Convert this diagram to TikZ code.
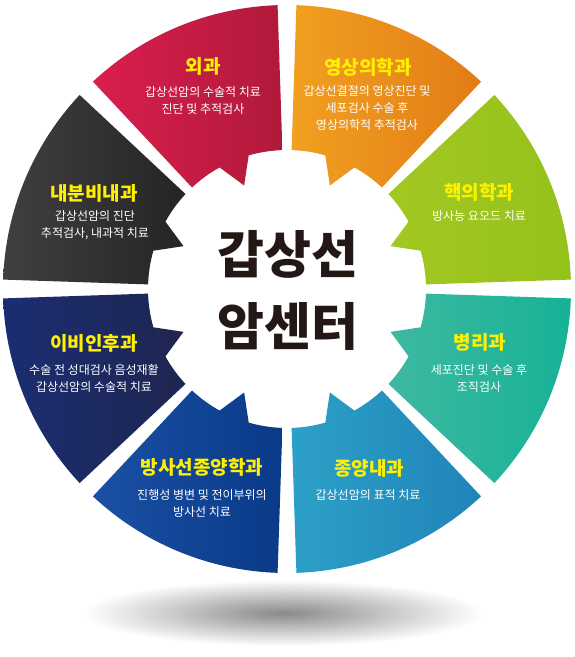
\documentclass[tikz,border=0pt]{standalone}
\usepackage{fontspec}
\newfontfamily\kr{Noto Sans CJK KR}
\definecolor{ttl}{RGB}{255,240,0}
\definecolor{ctr}{RGB}{35,24,21}
\definecolor{redL}{RGB}{218,30,78}\definecolor{redR}{RGB}{176,26,58}
\definecolor{orL}{RGB}{241,160,32}\definecolor{orR}{RGB}{226,124,22}
\definecolor{grL}{RGB}{162,200,34}\definecolor{grR}{RGB}{148,194,26}
\definecolor{gyL}{RGB}{64,64,64}\definecolor{gyR}{RGB}{36,36,36}
\definecolor{nvL}{RGB}{27,45,115}\definecolor{nvR}{RGB}{30,38,80}
\definecolor{blL}{RGB}{27,80,165}\definecolor{blR}{RGB}{10,58,136}
\definecolor{tbL}{RGB}{44,160,200}\definecolor{tbR}{RGB}{32,132,184}
\definecolor{tlL}{RGB}{62,185,160}\definecolor{tlR}{RGB}{22,178,150}
\newcommand\Ro{284}\newcommand\Ri{139}\newcommand\Rt{112}
\newcommand\gp{1.9}\newcommand\bw{6.5}
\newcommand\mysector[3]{%
 \pgfmathsetmacro\sA{#1+\gp}\pgfmathsetmacro\sB{#1+45-\gp}\pgfmathsetmacro\sM{#1+22.5}%
 \pgfmathsetmacro\sP{\sM+\bw}\pgfmathsetmacro\sN{\sM-\bw}%
 \shade[left color=#2, right color=#3, shift={(O)}] (\sA:\Ri) -- (\sA:\Ro)
   arc[start angle=\sA, end angle=\sB, radius=\Ro] -- (\sB:\Ri)
   arc[start angle=\sB, end angle=\sP, radius=\Ri] -- (\sM:\Rt) -- (\sN:\Ri)
   arc[start angle=\sN, end angle=\sA, radius=\Ri] -- cycle;}
\begin{document}
\begin{tikzpicture}[x=1pt,y=1pt,
  ttlst/.style={font=\kr\bfseries\fontsize{19}{22}\selectfont, text=ttl, inner sep=0pt},
  bodyst/.style={font=\kr\fontsize{12}{17}\selectfont, text=white, align=center, inner sep=0pt},
  ctrst/.style={font=\kr\bfseries\fontsize{51}{72}\selectfont, text=ctr, align=center, inner sep=0pt}]
\useasboundingbox (0,0) rectangle (574,-657);
\fill[white] (0,0) rectangle (574,-657);
\coordinate (O) at (287,-289);
\shade[inner color=black!46, outer color=white] (283,-613) ellipse [x radius=200, y radius=33];
\mysector{0}{grL}{grR}
\mysector{45}{orL}{orR}
\mysector{90}{redL}{redR}
\mysector{135}{gyL}{gyR}
\mysector{180}{nvL}{nvR}
\mysector{225}{blL}{blR}
\mysector{270}{tbL}{tbR}
\mysector{315}{tlL}{tlR}
% center
\node[ctrst] (c) at (288,-290) {갑상선\\암센터};
% titles and bodies
\node[ttlst] (t1) at (203,-66) {외과};
\node[bodyst] (b1) at (203,-101) {갑상선암의 수술적 치료\\진단 및 추적검사};
\node[ttlst] (t2) at (368,-67) {영상의학과};
\node[bodyst] (b2) at (367,-108) {갑상선결절의 영상진단 및\\세포검사 수술 후\\영상의학적 추적검사};
\node[ttlst] (t3) at (479,-192) {핵의학과};
\node[bodyst] (b3) at (479,-216) {방사능 요오드 치료};
\node[ttlst] (t4) at (480,-342) {병리과};
\node[bodyst] (b4) at (479,-378) {세포진단 및 수술 후\\조직검사};
\node[ttlst] (t5) at (369,-468) {종양내과};
\node[bodyst] (b5) at (368,-495) {갑상선암의 표적 치료};
\node[ttlst] (t6) at (202,-467) {방사선종양학과};
\node[bodyst] (b6) at (202,-503.5) {진행성 병변 및 전이부위의\\방사선 치료};
\node[ttlst] (t7) at (94,-343) {이비인후과};
\node[bodyst] (b7) at (94,-378) {수술 전 성대검사 음성재활\\갑상선암의 수술적 치료};
\node[ttlst] (t8) at (94,-193) {내분비내과};
\node[bodyst] (b8) at (95,-225) {갑상선암의 진단\\추적검사, 내과적 치료};
\end{tikzpicture}
\end{document}
